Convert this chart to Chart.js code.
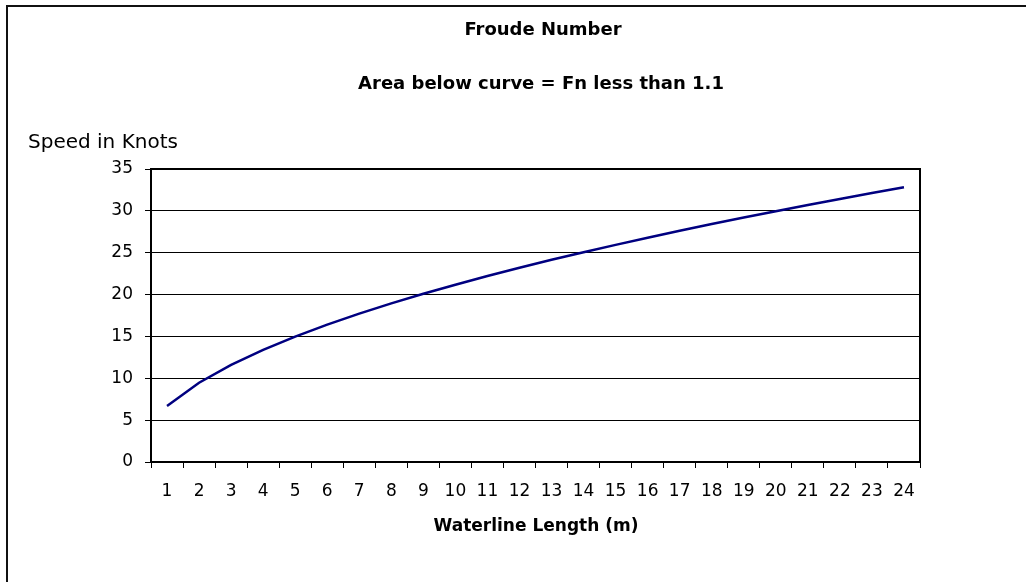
<!DOCTYPE html>
<html>
<head>
<meta charset="utf-8">
<script src="https://cdn.jsdelivr.net/npm/chart.js@4/dist/chart.umd.min.js"></script>
<style>
  html, body { margin: 0; padding: 0; background: #fff; }
  #wrap { position: relative; width: 1026px; height: 582px; overflow: hidden; }
  #frame { position: absolute; left: 6px; top: 5px; width: 1200px; height: 800px;
           border-left: 2px solid #111; border-top: 2px solid #111; pointer-events: none; }
</style>
</head>
<body>
<div id="wrap">
  <canvas id="chart" width="1026" height="582"></canvas>
  <div id="frame"></div>
</div>
<script>
// waterline length (m) along x
const lengths = ['1','2','3','4','5','6','7','8','9','10','11','12','13','14','15','16','17','18','19','20','21','22','23','24'];
// speed in knots where Fn = 1.1
const speeds = [6.7, 9.47, 11.6, 13.4, 14.98, 16.41, 17.72, 18.95, 20.1, 21.18, 22.22, 23.21,
                24.15, 25.06, 25.94, 26.79, 27.62, 28.42, 29.2, 29.96, 30.7, 31.42, 32.13, 32.82];
const yTicks = [0, 5, 10, 15, 20, 25, 30, 35];

const FONT = 'DejaVu Sans';

// titles and the box round the plot
const extras = {
  id: 'extras',
  afterDraw(chart) {
    const ctx = chart.ctx;
    const a = chart.chartArea;
    ctx.save();
    ctx.strokeStyle = '#000';
    ctx.lineWidth = 2;
    ctx.beginPath();
    ctx.moveTo(a.left, a.top);
    ctx.lineTo(a.right, a.top);
    ctx.lineTo(a.right, a.bottom);
    ctx.stroke();

    ctx.fillStyle = '#000';
    ctx.textBaseline = 'alphabetic';
    ctx.textAlign = 'center';
    ctx.font = 'bold 18px "' + FONT + '"';
    ctx.fillText('Froude Number', 543, 35);
    ctx.fillText('Area below curve = Fn less than 1.1', 541, 89);
    ctx.font = 'bold 17px "' + FONT + '"';
    ctx.fillText('Waterline Length (m)', 536, 531);
    ctx.textAlign = 'left';
    ctx.font = '20px "' + FONT + '"';
    ctx.fillText('Speed in Knots', 28, 148);
    ctx.restore();
  }
};

new Chart(document.getElementById('chart').getContext('2d'), {
  type: 'line',
  data: {
    labels: lengths,
    datasets: [{
      data: speeds,
      borderColor: '#000080',
      borderWidth: 2.5,
      pointRadius: 0,
      tension: 0,
      fill: false
    }]
  },
  options: {
    responsive: false,
    animation: false,
    layout: { padding: { left: 20, right: 106, top: 169, bottom: 20 } },
    plugins: { legend: { display: false }, tooltip: { enabled: false } },
    scales: {
      x: {
        type: 'category',
        offset: true,
        afterFit(s) { s.height = 100; },
        grid: { offset: true, drawOnChartArea: false, drawTicks: true, tickLength: 6, color: '#000' },
        border: { color: '#000', width: 2 },
        ticks: { color: '#000', font: { family: FONT, size: 17 }, padding: 13, maxRotation: 0, autoSkip: false }
      },
      y: {
        min: 0,
        max: 35,
        afterFit(s) { s.width = 131; },
        afterBuildTicks(s) { s.ticks = yTicks.map(v => ({ value: v })); },
        grid: { color: '#000', lineWidth: 1, drawTicks: true, tickLength: 6 },
        border: { color: '#000', width: 2 },
        ticks: { color: '#000', font: { family: FONT, size: 17 }, padding: 12 }
      }
    }
  },
  plugins: [extras]
});
</script>
</body>
</html>
